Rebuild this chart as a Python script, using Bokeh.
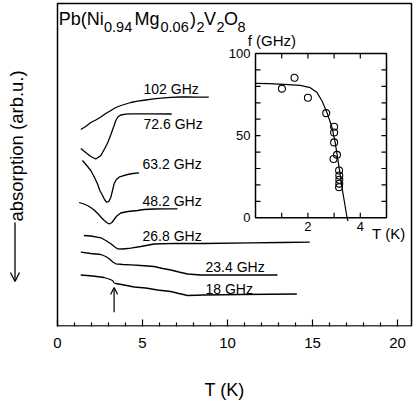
import math
from bokeh.plotting import figure
from bokeh.models import Range1d, FixedTicker, Arrow, OpenHead
from bokeh.core.properties import value
from bokeh.embed import file_html
from bokeh.resources import INLINE

FONT = "Liberation Sans"

# ---------------- data: main panel (T in K, absorption in arb. units) ----------------
T_102 = [1.37, 1.66, 1.96, 2.25, 2.55, 2.84, 3.14, 3.43, 3.74, 4.02, 4.31, 4.71, 5.19, 5.66, 6.08, 6.67, 7.25, 7.65, 8.14, 8.90]
A_102 = [197, 200, 204, 206.5, 209.5, 213, 216, 219, 221, 222.5, 224, 225.3, 226.5, 227.7, 228.3, 229.2, 229.5, 229.5, 229.3, 229.3]

T_726 = [1.37, 1.66, 1.96, 2.25, 2.55, 2.78, 2.96, 3.14, 3.31, 3.43, 3.55, 3.72, 4.02, 4.31, 5.49, 6.72]
A_726 = [178, 174, 170, 167.5, 171, 178, 184, 192, 200, 206, 209.5, 211.5, 212.3, 212.7, 212.7, 212.5]

T_632 = [1.47, 1.72, 1.96, 2.15, 2.35, 2.49, 2.65, 2.78, 2.90, 3.02, 3.14, 3.25, 3.33, 3.46, 3.62, 3.84, 4.12, 4.43, 4.80]
A_632 = [166, 161, 156, 150, 142.7, 136, 131, 126.5, 124.3, 125, 129.3, 137, 142.7, 147, 149.3, 150.7, 152, 153, 153.7]

T_482 = [1.27, 1.55, 1.76, 1.96, 2.15, 2.37, 2.55, 2.75, 2.94, 3.05, 3.20, 3.33, 3.49, 3.72, 4.14, 4.71, 5.09, 5.68, 6.37, 7.06]
A_482 = [124, 122.5, 121, 119, 116.5, 113, 109.5, 106, 103.5, 102.5, 104, 107, 110.5, 113.5, 115, 116, 117, 117.5, 117.7, 117.7]

T_268 = [1.55, 1.96, 2.55, 2.84, 3.14, 3.37, 3.53, 3.84, 4.31, 4.90, 5.69, 6.96, 8.62, 11.37, 13.14, 14.84]
A_268 = [91, 90.5, 88.7, 86, 82.7, 79.5, 77.7, 77.5, 78.3, 80, 82.5, 83.2, 83, 83.7, 84, 84.3]

T_234 = [1.37, 1.96, 2.55, 2.84, 3.04, 3.25, 3.43, 3.84, 4.31, 4.90, 5.68, 6.19, 6.67, 7.14, 7.65, 8.43, 10.19, 12.94]
A_234 = [74.3, 73, 72, 70, 67.7, 64.5, 62.7, 62, 61.7, 61, 60, 58, 56.5, 54.5, 52.5, 51.5, 51.5, 51.5]

T_18 = [1.37, 2.08, 2.74, 3.02, 3.24, 3.33, 3.43, 3.92, 4.51, 5.19, 5.88, 6.66, 7.14, 7.65, 8.62, 10.78, 14.08]
A_18 = [51.5, 50.5, 49, 47.5, 46, 43.5, 43, 41.5, 39.5, 38.5, 36.5, 35, 33, 31, 31.5, 32, 32.5]

curve_names = ["102 GHz", "72.6 GHz", "63.2 GHz", "48.2 GHz", "26.8 GHz", "23.4 GHz", "18 GHz"]

x_major_ticks = [0, 5, 10, 15, 20]
x_minor_ticks = [1, 2, 3, 4, 6, 7, 8, 9, 11, 12, 13, 14, 16, 17, 18, 19]

# transition marker (T_N) arrow in main panel
arrow_T = 3.33

# ---------------- data: inset (T in K, f in GHz) ----------------
pts_T = [1.01, 1.49, 2.00, 2.70, 3.00, 3.00, 3.00, 3.11, 2.98, 3.19, 3.20, 3.20, 3.20, 3.19]
pts_f = [78.6, 85.2, 73.1, 63.7, 55.4, 51.9, 45.9, 38.3, 35.8, 28.8, 25.7, 23.2, 20.8, 18.6]
fit_T = [0.0, 0.5, 1.08, 1.71, 2.09, 2.35, 2.54, 2.73, 2.92, 3.04, 3.17, 3.30, 3.49, 3.53]
fit_f = [81.8, 81.7, 81.2, 80.6, 79.2, 76.2, 71.1, 64.0, 55.0, 45.9, 32.8, 18.6, 0.5, -2.0]

inset_x_ticks = [1, 2, 3, 4]
inset_x_labels = ["2", "4"]
inset_x_label_pos = [2, 4]
inset_y_ticks = [10, 20, 30, 40, 50, 60, 70, 80, 90]
inset_y_labels = ["0", "50", "100"]
inset_y_label_pos = [0, 50, 100]

# ---------------- layout geometry (page pixels) ----------------
W, H = 415, 403
FR_L, FR_R, FR_T, FR_B = 0, 413, 0, 326     # plotting frame
X0_PX, PX_PER_K = 57, 17.0                  # main axis: T=0 position, px per K
BOX_R, BOX_T = 411, 3                        # right / top edge of the drawn box
IN_L, IN_R, IN_T, IN_B = 255, 386, 53, 217.3  # inset box
IN_XMAX, IN_YMAX = 5, 100


def tx(px):
    return (px - X0_PX) / PX_PER_K


def ay(py):
    return FR_B - py


p = figure(width=W, height=H,
           x_range=Range1d(tx(FR_L), tx(FR_R)), y_range=Range1d(0, FR_B - FR_T),
           output_backend="svg", toolbar_location=None,
           min_border_left=FR_L, min_border_right=W - FR_R, min_border_top=FR_T,
           min_border_bottom=H - FR_B)
p.title.visible = False
p.background_fill_color = "white"
p.border_fill_color = "white"
p.outline_line_color = None
p.grid.visible = False
p.yaxis.visible = False

xa = p.xaxis[0]
xa.ticker = FixedTicker(ticks=x_major_ticks, minor_ticks=x_minor_ticks)
xa.axis_line_color = None
xa.major_tick_in = 7
xa.major_tick_out = 0
xa.minor_tick_in = 4
xa.minor_tick_out = 0
xa.major_tick_line_width = 1.2
xa.minor_tick_line_width = 1.2
xa.major_label_text_font = FONT
xa.major_label_text_font_size = "15px"
xa.major_label_text_color = "black"
xa.major_label_standoff = 11
xa.axis_label = "\u00a0" * 7 + "T (K)"
xa.axis_label_text_font = FONT
xa.axis_label_text_font_size = "18px"
xa.axis_label_text_font_style = "normal"
xa.axis_label_text_color = "black"
xa.axis_label_standoff = 29

# main box
p.quad(left=[0], right=[tx(BOX_R)], bottom=[0.6], top=[ay(BOX_T)],
       fill_color=None, line_color="black", line_width=1.5)

for T, A in [(T_102, A_102), (T_726, A_726), (T_632, A_632), (T_482, A_482),
             (T_268, A_268), (T_234, A_234), (T_18, A_18)]:
    p.line(T, A, line_color="black", line_width=1.3)

# curve labels (page positions of their left edge / vertical centre)
lab_px = [143, 143, 142, 142, 142, 205, 205]
lab_py = [88.3, 123.3, 163.3, 200.7, 235, 266.7, 288.3]
p.text(x=[tx(v) for v in lab_px], y=[ay(v) for v in lab_py], text=curve_names,
       text_font=value(FONT), text_font_size="14px", text_baseline="middle",
       text_align="left", text_color="black")

p.add_layout(Arrow(x_start=arrow_T, y_start=ay(311.7), x_end=arrow_T, y_end=ay(287),
                   line_width=1.2, end=OpenHead(size=7, line_width=1.2)))

# title with subscripts
pieces = ["Pb(Ni", "0.94", "Mg", "0.06", ")", "2", "V", "2", "O", "8"]
is_sub = [False, True, False, True, False, True, False, True, False, True]
piece_px = [58.3, 103.5, 134.0, 160.0, 189.5, 196.0, 203.5, 216.0, 223.5, 237.0]
for sub in (False, True):
    sel = [i for i in range(len(pieces)) if is_sub[i] == sub]
    p.text(x=[tx(piece_px[i]) for i in sel], y=[ay(26.5 if sub else 18.0)] * len(sel),
           text=[pieces[i] for i in sel], text_font=value(FONT),
           text_font_size="14.5px" if sub else "18px", text_baseline="alphabetic",
           text_align="left", text_color="black")

# y label with arrow
p.text(x=[tx(15.5)], y=[ay(221)], text=["absorption (arb.u.)"], angle=math.pi / 2,
       text_font=value(FONT), text_font_size="18.5px", text_baseline="middle",
       text_align="left", text_color="black")
p.add_layout(Arrow(x_start=tx(14.5), y_start=ay(222), x_end=tx(14.5), y_end=ay(281),
                   line_width=1.3, end=OpenHead(size=9, line_width=1.3)))

# ---------------- inset (drawn through its own ranges) ----------------
kx = (IN_R - IN_L) / IN_XMAX
ky = (IN_B - IN_T) / IN_YMAX
ix0 = -(IN_L - FR_L) / kx
iy0 = -(FR_B - IN_B) / ky
p.extra_x_ranges = {"ix": Range1d(ix0, ix0 + (FR_R - FR_L) / kx)}
p.extra_y_ranges = {"iy": Range1d(iy0, iy0 + (FR_B - FR_T) / ky)}
R = dict(x_range_name="ix", y_range_name="iy")

p.quad(left=[0], right=[IN_XMAX], bottom=[0], top=[IN_YMAX], fill_color="white",
       line_color="black", line_width=1.5, **R)

tl_y = 5 / ky
tl_x = 5 / kx
nx = len(inset_x_ticks)
p.segment(x0=inset_x_ticks, y0=[0] * nx, x1=inset_x_ticks, y1=[tl_y] * nx,
          line_color="black", line_width=1.2, **R)
p.segment(x0=inset_x_ticks, y0=[IN_YMAX] * nx, x1=inset_x_ticks, y1=[IN_YMAX - tl_y] * nx,
          line_color="black", line_width=1.2, **R)
n = len(inset_y_ticks)
p.segment(x0=[0] * n, y0=inset_y_ticks, x1=[tl_x] * n, y1=inset_y_ticks,
          line_color="black", line_width=1.2, **R)
p.segment(x0=[IN_XMAX] * n, y0=inset_y_ticks, x1=[IN_XMAX - tl_x] * n, y1=inset_y_ticks,
          line_color="black", line_width=1.2, **R)

p.text(x=inset_x_label_pos, y=[0, 0], text=inset_x_labels, y_offset=4,
       text_font=value(FONT), text_font_size="13px", text_baseline="top",
       text_align="center", text_color="black", **R)
p.text(x=[0, 0, 0], y=inset_y_label_pos, text=inset_y_labels, x_offset=-5,
       text_font=value(FONT), text_font_size="13px", text_baseline="middle",
       text_align="right", text_color="black", **R)
p.text(x=[-0.3], y=[IN_YMAX], text=["f (GHz)"], y_offset=-13,
       text_font=value(FONT), text_font_size="15px", text_baseline="middle",
       text_align="left", text_color="black", **R)
p.text(x=[4.45], y=[0], text=["T (K)"], y_offset=16,
       text_font=value(FONT), text_font_size="15px", text_baseline="middle",
       text_align="left", text_color="black", **R)

p.line(fit_T, fit_f, line_color="black", line_width=1.2, **R)
p.scatter(pts_T, pts_f, marker="circle", size=7, fill_color=None,
          line_color="black", line_width=1.1, **R)

open("out.html", "w").write(file_html(p, INLINE))
